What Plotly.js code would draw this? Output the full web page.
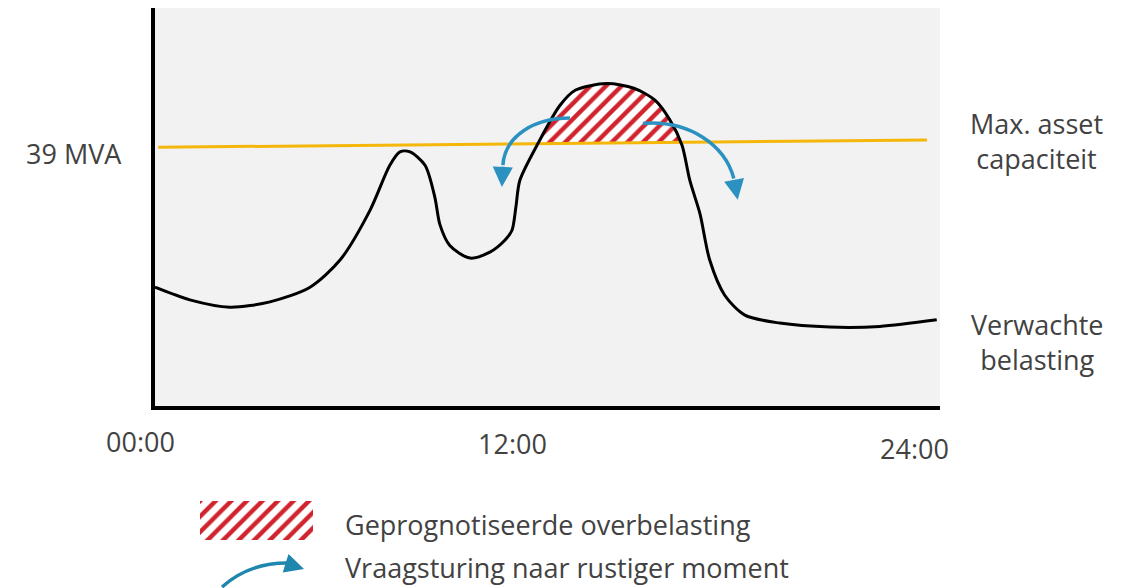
<!DOCTYPE html>
<html>
<head>
<meta charset="utf-8">
<script src="https://cdn.plot.ly/plotly-3.0.1.min.js"></script>
<style>
  html, body { margin: 0; padding: 0; background: #ffffff; }
  #chart { width: 1132px; height: 588px; }
</style>
</head>
<body>
<div id="chart"></div>
<script>
// ---------------- data ----------------
const hours = [0, 1.07, 2.30, 3.53, 4.76, 5.68, 6.60, 7.21, 7.52, 7.83, 8.29, 8.59, 8.75, 9.05, 9.67, 10.28, 10.74, 10.96, 11.08, 11.20, 11.76, 12.43, 12.90, 13.87, 14.70, 15.35, 15.81, 16.18, 16.42, 16.73, 17.03, 17.49, 18.11, 19.18, 20.72, 22.25, 24];
const loadMVA = [17.9, 16.0, 14.9, 15.7, 17.9, 22.0, 29.5, 36.3, 38.3, 38.3, 36.3, 31.5, 27.3, 24.2, 22.3, 23.2, 25.0, 26.5, 30.0, 34.0, 39.6, 45.3, 47.6, 48.6, 47.9, 46.1, 43.1, 39.3, 34.0, 29.0, 22.0, 16.7, 13.7, 12.5, 11.9, 12.0, 13.0];
const capHours = [0.1, 23.7];
const capMVA = [39.0, 40.1];
const capLabel = '39 MVA';
const tickLabels = ['00:00', '12:00', '24:00'];
const seriesLabels = ['Max. asset<br>capaciteit', 'Verwachte<br>belasting'];
const legendLabels = ['Geprognotiseerde overbelasting', 'Vraagsturing naar rustiger moment'];

// ---------------- styling ----------------
const W = 1132, H = 588;
const FONT = 'Open Sans, Noto Sans, sans-serif';
const FS = 27;
const TXT = '#424242';
const BLUE = '#2a91c0';
const RED = '#d0232e';
const YELLOW = '#f4b70a';
const px = x => x / W;
const py = y => 1 - y / H;

// capacity as function of time (linear between the two drawn ends)
function capAt(h) {
  const t = (h - capHours[0]) / (capHours[1] - capHours[0]);
  return capMVA[0] + t * (capMVA[1] - capMVA[0]);
}

// overload region: where expected load exceeds capacity
const overX = [], overY = [];
for (let i = 1; i < hours.length; i++) {
  const d0 = loadMVA[i - 1] - capAt(hours[i - 1]);
  const d1 = loadMVA[i] - capAt(hours[i]);
  if (d0 <= 0 && d1 > 0 || d0 > 0 && d1 <= 0) {
    const t = d0 / (d0 - d1);
    const hx = hours[i - 1] + t * (hours[i] - hours[i - 1]);
    overX.push(hx); overY.push(capAt(hx));
  }
  if (d1 > 0) { overX.push(hours[i]); overY.push(loadMVA[i]); }
}
const baseX = [overX[0], overX[overX.length - 1]];
const baseY = baseX.map(capAt);

const traces = [
  { x: baseX, y: baseY, mode: 'lines', line: { width: 0, color: 'rgba(0,0,0,0)' },
    hoverinfo: 'skip', showlegend: false },
  { x: overX, y: overY, mode: 'lines', line: { width: 0, shape: 'spline', smoothing: 0.8, color: 'rgba(0,0,0,0)' },
    fill: 'tonexty', fillcolor: '#ffffff',
    fillpattern: { shape: '/', fgcolor: RED, bgcolor: '#ffffff', size: 11, solidity: 0.4 },
    hoverinfo: 'skip', showlegend: false },
  { x: capHours, y: capMVA, mode: 'lines', line: { color: YELLOW, width: 3 },
    hoverinfo: 'skip', showlegend: false },
  { x: hours, y: loadMVA, mode: 'lines', line: { color: '#000000', width: 3, shape: 'spline', smoothing: 0.8 },
    hoverinfo: 'skip', showlegend: false },
  // legend swatch for the hatched overload
  { x: [0, 1, 1, 0, 0], y: [0, 0, 1, 1, 0], xaxis: 'x2', yaxis: 'y2', mode: 'lines',
    line: { width: 0, color: 'rgba(0,0,0,0)' }, fill: 'toself', fillcolor: '#ffffff',
    fillpattern: { shape: '/', fgcolor: RED, bgcolor: '#ffffff', size: 11, solidity: 0.4 },
    hoverinfo: 'skip', showlegend: false }
];

// arrows (demand shifting), in data coordinates
const arrowL = { p: [[12.74, 43.4], [11.66, 43.4], [10.74, 40.8], [10.68, 36.3]], tip: [10.65, 33.0] };
const arrowR = { p: [[14.98, 42.6], [16.42, 43.1], [17.50, 39.3], [17.77, 34.3]], tip: [17.89, 31.1] };
function pathOf(a) {
  const p = a.p;
  return `M ${p[0][0]},${p[0][1]} C ${p[1][0]},${p[1][1]} ${p[2][0]},${p[2][1]} ${p[3][0]},${p[3][1]}`;
}
const shapes = [arrowL, arrowR].map(a => ({
  type: 'path', xref: 'x', yref: 'y', path: pathOf(a),
  line: { color: BLUE, width: 3.5 }, layer: 'above'
}));
// legend arrow in paper coordinates
shapes.push({
  type: 'path', xref: 'paper', yref: 'paper',
  path: `M ${px(222)},${py(587)} Q ${px(250)},${py(562)} ${px(290)},${py(563)}`,
  line: { color: '#1f86ad', width: 3.5 }, layer: 'above'
});

const annotations = [];
[arrowL, arrowR].forEach(a => {
  const e = a.p[3];
  annotations.push({ x: a.tip[0], y: a.tip[1], xref: 'x', yref: 'y', ax: e[0], ay: e[1], axref: 'x', ayref: 'y',
    text: '', showarrow: true, arrowhead: 2, arrowsize: 1.15, arrowwidth: 3.5, arrowcolor: BLUE, standoff: 0 });
});
annotations.push({ x: px(304), y: py(569), xref: 'paper', yref: 'paper', ax: px(288), ay: py(564),
  axref: 'paper', ayref: 'paper', text: '', showarrow: true, arrowhead: 2, arrowsize: 1.1, arrowwidth: 3.5,
  arrowcolor: '#1f86ad', standoff: 0 });

function label(text, x, y, xanchor) {
  return { text: text, x: px(x), y: py(y), xref: 'paper', yref: 'paper', xanchor: xanchor, yanchor: 'middle',
    showarrow: false, align: 'center', font: { family: FONT, size: FS, color: TXT } };
}
annotations.push(label(capLabel, 74, 154, 'center'));
annotations.push(label(tickLabels[0], 140, 441, 'center'));
annotations.push(label(tickLabels[1], 512, 443, 'center'));
annotations.push(label(tickLabels[2], 914, 448, 'center'));
annotations.push(label(seriesLabels[0], 1036, 141, 'center'));
annotations.push(label(seriesLabels[1], 1037, 342, 'center'));
annotations.push(label(legendLabels[0], 343, 524, 'left'));
annotations.push(label(legendLabels[1], 343, 567, 'left'));

const layout = {
  width: W, height: H,
  margin: { l: 0, r: 0, t: 0, b: 0 },
  paper_bgcolor: '#ffffff',
  plot_bgcolor: '#f2f2f2',
  showlegend: false,
  xaxis: { domain: [px(155), px(940)], range: [0, 24.1], showgrid: false, zeroline: false,
    showticklabels: false, ticks: '', showline: true, linecolor: '#000000', linewidth: 4, fixedrange: true },
  yaxis: { domain: [py(406), py(8)], range: [0, 60], showgrid: false, zeroline: false,
    showticklabels: false, ticks: '', showline: true, linecolor: '#000000', linewidth: 4, fixedrange: true },
  xaxis2: { domain: [px(200), px(313)], range: [0, 1], visible: false, fixedrange: true, anchor: 'y2' },
  yaxis2: { domain: [py(540), py(501)], range: [0, 1], visible: false, fixedrange: true, anchor: 'x2' },
  shapes: shapes,
  annotations: annotations
};

Plotly.newPlot('chart', traces, layout, { displayModeBar: false, staticPlot: true });
</script>
</body>
</html>
